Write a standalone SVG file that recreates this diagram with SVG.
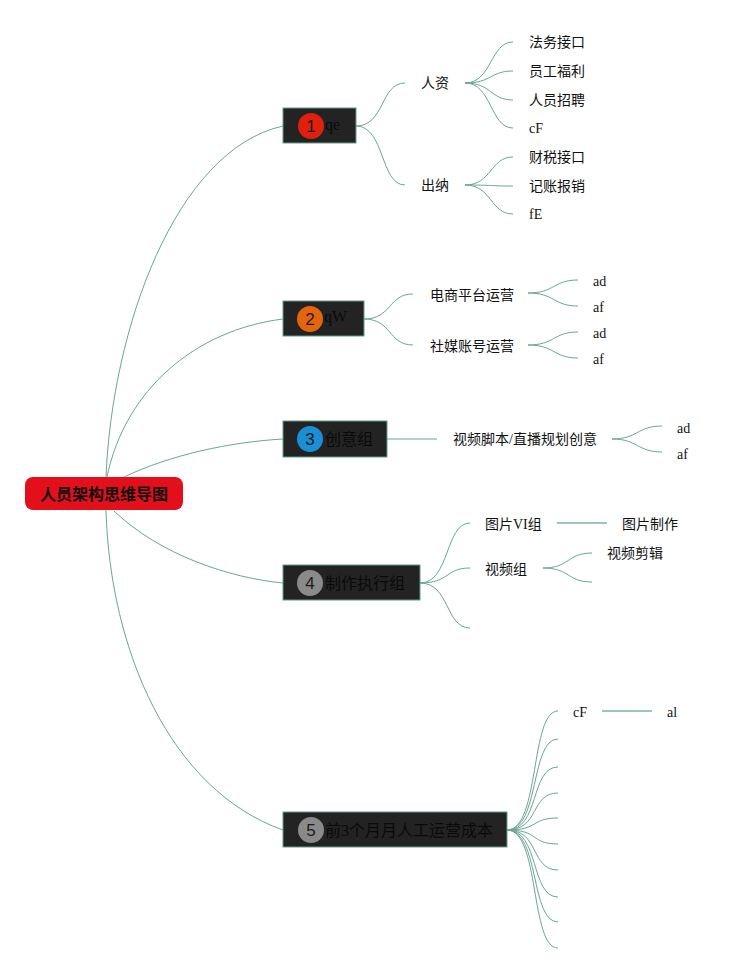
<svg xmlns="http://www.w3.org/2000/svg" width="751" height="974" viewBox="0 0 751 974">
<style>
.c{fill:none;stroke:#6aa595;stroke-width:1}
.thick{fill:none;stroke:#9cc8b8;stroke-width:2}
.box{fill:#232323;stroke:#5f9e86;stroke-width:1}
.t{font-family:"Liberation Serif","Noto Sans CJK SC",serif;font-size:14px;fill:#111}
.nt{font-family:"Liberation Serif","Noto Sans CJK SC",serif;font-size:16px;fill:#0a0a0a}
.num{font-family:"Liberation Sans","DejaVu Sans",sans-serif;font-size:17px;fill:#1a1a1a;text-anchor:middle}
.root{font-family:"Noto Sans CJK SC",sans-serif;font-size:16px;font-weight:bold;fill:#111;text-anchor:middle}
</style>
<rect width="751" height="974" fill="#ffffff"/>
<g id="connectors">
<path class="c" d="M106,477 C112,330 175,150 283,126"/>
<path class="c" d="M107,477 C125,390 195,330 283,319"/>
<path class="c" d="M124,477 C170,455 230,442 283,439"/>
<path class="c" d="M114,511 C160,555 230,578 283,583"/>
<path class="c" d="M106,510 C110,650 170,790 283,830"/>
<path class="c" d="M356,126 C385,126 380,83 405,83"/>
<path class="c" d="M356,126 C385,126 380,185 405,185"/>
<path class="c" d="M465,83 C492,83 490,42 513,42"/>
<path class="c" d="M465,83 C492,83 490,71 513,71"/>
<path class="c" d="M465,83 C492,83 490,100 513,100"/>
<path class="c" d="M465,83 C492,83 490,128 513,128"/>
<path class="c" d="M465,185 C492,185 490,157 513,157"/>
<path class="c" d="M465,185 C492,185 490,186 513,186"/>
<path class="c" d="M465,185 C492,185 490,214 513,214"/>
<path class="c" d="M364,319 C392,319 388,294 413,294"/>
<path class="c" d="M364,319 C392,319 388,345 413,345"/>
<path class="c" d="M528,293 C555,293 553,280 578,280"/>
<path class="c" d="M528,293 C555,293 553,306 578,306"/>
<path class="c" d="M528,345 C555,345 553,332 578,332"/>
<path class="c" d="M528,345 C555,345 553,358 578,358"/>
<path class="c" d="M387,439 L437,439"/>
<path class="c" d="M612,439 C638,439 637,426 662,426"/>
<path class="c" d="M612,439 C638,439 637,452 662,452"/>
<path class="c" d="M420,583 C450,583 445,523 470,523"/>
<path class="c" d="M420,583 C450,583 445,568 470,568"/>
<path class="c" d="M420,583 C450,583 445,628 470,628"/>
<path class="thick" d="M557,523 L607,523"/>
<path class="c" d="M543,568 C570,568 567,553 592,553"/>
<path class="c" d="M543,568 C570,568 567,582 592,582"/>
<path class="c" d="M507,830 C540,830 530,711 558,711"/>
<path class="c" d="M507,830 C540,830 530,739 558,739"/>
<path class="c" d="M507,830 C540,830 530,767 558,767"/>
<path class="c" d="M507,830 C540,830 530,793 558,793"/>
<path class="c" d="M507,830 C540,830 530,818 558,818"/>
<path class="c" d="M507,830 C540,830 530,844 558,844"/>
<path class="c" d="M507,830 C540,830 530,870 558,870"/>
<path class="c" d="M507,830 C540,830 530,897 558,897"/>
<path class="c" d="M507,830 C540,830 530,922 558,922"/>
<path class="c" d="M507,830 C540,830 530,948 558,948"/>
<path class="thick" d="M602,711 L652,711"/>
</g>
<g id="root">
<rect x="25" y="477" width="158" height="33" rx="8" fill="#e3101b"/>
<text class="root" x="104" y="500">人员架构思维导图</text>
</g>
<g id="n1">
<rect class="box" x="283" y="108" width="73" height="35"/>
<circle cx="311" cy="126" r="13" fill="#e0200c"/>
<text class="num" x="311" y="132">1</text>
<text class="nt" x="325" y="130">qe</text>
</g>
<g id="n2">
<rect class="box" x="283" y="301" width="81" height="35"/>
<circle cx="310" cy="319" r="13" fill="#e5650f"/>
<text class="num" x="310" y="325">2</text>
<text class="nt" x="324" y="322">qW</text>
</g>
<g id="n3">
<rect class="box" x="283" y="421" width="104" height="36"/>
<circle cx="310" cy="439" r="13" fill="#1a8fd6"/>
<text class="num" x="310" y="445">3</text>
<text class="nt" x="325" y="445">创意组</text>
</g>
<g id="n4">
<rect class="box" x="283" y="565" width="137" height="35"/>
<circle cx="310" cy="583" r="13" fill="#8a8a8a"/>
<text class="num" x="310" y="589">4</text>
<text class="nt" x="325" y="589">制作执行组</text>
</g>
<g id="n5">
<rect class="box" x="283" y="812" width="224" height="35"/>
<circle cx="311" cy="830" r="13" fill="#8a8a8a"/>
<text class="num" x="311" y="836">5</text>
<text class="nt" x="325" y="836">前3个月月人工运营成本</text>
</g>
<g id="n1a"><text class="t" x="421" y="88">人资</text></g>
<g id="n1b"><text class="t" x="421" y="190">出纳</text></g>
<g id="n1a1"><text class="t" x="529" y="47">法务接口</text></g>
<g id="n1a2"><text class="t" x="529" y="76">员工福利</text></g>
<g id="n1a3"><text class="t" x="529" y="105">人员招聘</text></g>
<g id="n1a4"><text class="t" x="529" y="133">cF</text></g>
<g id="n1b1"><text class="t" x="529" y="162">财税接口</text></g>
<g id="n1b2"><text class="t" x="529" y="191">记账报销</text></g>
<g id="n1b3"><text class="t" x="529" y="219">fE</text></g>
<g id="n2a"><text class="t" x="430" y="300">电商平台运营</text></g>
<g id="n2b"><text class="t" x="430" y="351">社媒账号运营</text></g>
<g id="n2a1"><text class="t" x="593" y="286">ad</text></g>
<g id="n2a2"><text class="t" x="593" y="312">af</text></g>
<g id="n2b1"><text class="t" x="593" y="338">ad</text></g>
<g id="n2b2"><text class="t" x="593" y="364">af</text></g>
<g id="n3a"><text class="t" x="453" y="444">视频脚本/直播规划创意</text></g>
<g id="n3a1"><text class="t" x="677" y="433">ad</text></g>
<g id="n3a2"><text class="t" x="677" y="459">af</text></g>
<g id="n4a"><text class="t" x="485" y="529">图片VI组</text></g>
<g id="n4a1"><text class="t" x="622" y="529">图片制作</text></g>
<g id="n4b"><text class="t" x="485" y="574">视频组</text></g>
<g id="n4b1"><text class="t" x="607" y="558">视频剪辑</text></g>
<g id="n5a"><text class="t" x="573" y="717">cF</text></g>
<g id="n5a1"><text class="t" x="667" y="717">al</text></g>
</svg>
